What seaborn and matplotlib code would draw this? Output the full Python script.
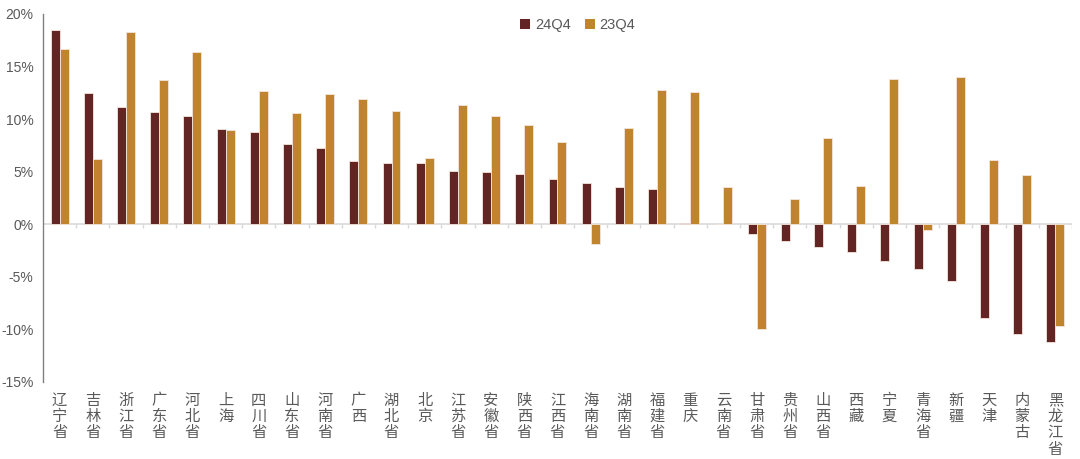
import numpy as np
import pandas as pd
import matplotlib
matplotlib.use('Agg')
import matplotlib.pyplot as plt
import seaborn as sns
from matplotlib.patches import Patch

# --- Data (%) ---
provinces = ['辽宁省', '吉林省', '浙江省', '广东省', '河北省', '上海', '四川省', '山东省',
             '河南省', '广西', '湖北省', '北京', '江苏省', '安徽省', '陕西省', '江西省',
             '海南省', '湖南省', '福建省', '重庆', '云南省', '甘肃省', '贵州省', '山西省',
             '西藏', '宁夏', '青海省', '新疆', '天津', '内蒙古', '黑龙江省']
q4_24 = [18.5, 12.5, 11.2, 10.7, 10.3, 9.1, 8.8, 7.6, 7.3, 6.0, 5.8, 5.8, 5.1, 5.0,
         4.8, 4.3, 3.9, 3.5, 3.4, 0.1, 0.05, -0.9, -1.6, -2.2, -2.6, -3.5, -4.3, -5.4,
         -8.9, -10.4, -11.2]
q4_23 = [16.7, 6.2, 18.3, 13.7, 16.4, 9.0, 12.7, 10.6, 12.4, 11.9, 10.8, 6.3, 11.3,
         10.3, 9.4, 7.8, -1.9, 9.2, 12.8, 12.6, 3.5, -10.0, 2.4, 8.2, 3.6, 13.8, -0.5,
         14.0, 6.1, 4.7, -9.7]
series = ['24Q4', '23Q4']
colors = ['#632523', '#C0842F']

df = pd.DataFrame({'省份': provinces * 2,
                   '值': q4_24 + q4_23,
                   '季度': [series[0]] * len(provinces) + [series[1]] * len(provinces)})

sns.set_style('white')
plt.rcParams['font.family'] = ['Noto Sans CJK SC', 'DejaVu Sans']
plt.rcParams['axes.unicode_minus'] = False

grey = '#595959'
fig = plt.figure(figsize=(10.8, 4.59), dpi=100)
ax = fig.add_axes([0.0398, 0.1678, 0.9528, 0.8017])

sns.barplot(data=df, x='省份', y='值', hue='季度', palette=colors, width=0.54,
            saturation=1, edgecolor='#f3e6dc', linewidth=0.6, ax=ax, legend=False)

ax.set_xlim(-0.5, len(provinces) - 0.5)
ax.set_ylim(-15, 20)
ax.set_yticks(np.arange(-15, 21, 5))
ax.set_yticklabels([f'{v}%' for v in range(-15, 21, 5)], family='Liberation Sans')
ax.set_xlabel('')
ax.set_ylabel('')

# vertical stacked province labels
ax.set_xticks(range(len(provinces)))
ax.set_xticklabels(['\n'.join(p) for p in provinces], linespacing=0.95)
ax.tick_params(axis='x', length=0, pad=7, labelsize=11, labelcolor=grey)
ax.tick_params(axis='y', length=4, width=0.8, color='#808080', direction='out',
               labelsize=10, labelcolor=grey, pad=3)

for s in ['top', 'right', 'bottom']:
    ax.spines[s].set_visible(False)
ax.spines['left'].set_color('#808080')
ax.spines['left'].set_linewidth(1.0)

# zero line with small category separators
ax.axhline(0, color='#d9d9d9', linewidth=1.2, zorder=0.5)
bounds = np.arange(len(provinces) + 1) - 0.5
ax.vlines(bounds[1:], -0.35, 0, color='#d9d9d9', linewidth=1.0, zorder=0.5)

handles = [Patch(facecolor=c, edgecolor='none') for c in colors]
fig.legend(handles, series, loc='upper center', bbox_to_anchor=(0.535, 0.99), ncol=2,
           frameon=False, prop={'family': 'Liberation Sans', 'size': 10.5},
           labelcolor=grey, handlelength=0.7, handleheight=0.7, handletextpad=0.3,
           columnspacing=1.0)

fig.savefig('out.png', dpi=100)
